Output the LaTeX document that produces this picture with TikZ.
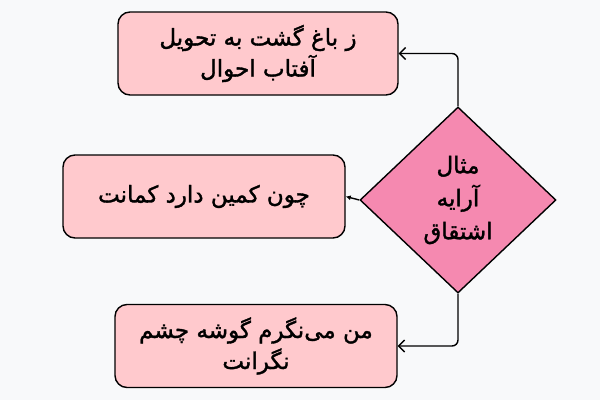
\documentclass[tikz,border=0pt]{standalone}
\usepackage{fontspec}
\usetikzlibrary{shapes.geometric,arrows.meta}
\newfontfamily\arabicfont[Script=Arabic,FakeBold=1.5]{DejaVu Sans}
\TeXXeTstate=1
\definecolor{boxpink}{HTML}{FFC9CD}
\definecolor{diampink}{HTML}{F589B0}
\definecolor{bgcol}{HTML}{F8F9FA}
\begin{document}
\begin{tikzpicture}[x=1pt,y=-1pt,
    box/.style={draw, line width=1.4pt, fill=boxpink, rounded corners=12pt, minimum width=282pt, minimum height=83pt, align=center, font=\arabicfont\fontsize{23}{31}\selectfont},
    choice/.style={draw, line width=1.4pt, fill=diampink, diamond, minimum width=196pt, minimum height=186pt, inner sep=0pt, align=center, font=\arabicfont\fontsize{23}{33}\selectfont},
    link/.style={line width=1.4pt, rounded corners=6pt, -{Straight Barb[length=6pt,width=12pt]}}]
    \fill[bgcol] (0,0) rectangle (600,400);
    \node[choice] (root) at (458,200) {\beginR مثال\endR\\\beginR آرایه\endR\\\beginR اشتقاق\endR};
    \node[box, minimum width=280pt] (top) at (258,53.5) {\beginR ز باغ گشت به تحویل\endR\\\beginR آفتاب احوال\endR};
    \node[box] (mid) at (204,196.5) {\beginR چون کمین دارد کمانت\endR};
    \node[box] (bot) at (256,346) {\beginR من می‌نگرم گوشه چشم\endR\\\beginR نگرانت\endR};
    \draw[link] (root.north) |- (top.east);
    \draw[line width=1.4pt, -{Latex[length=5pt,width=5pt]}] (root.west) -- (mid.east);
    \draw[link] (root.south) |- (bot.east);
\end{tikzpicture}
\end{document}
